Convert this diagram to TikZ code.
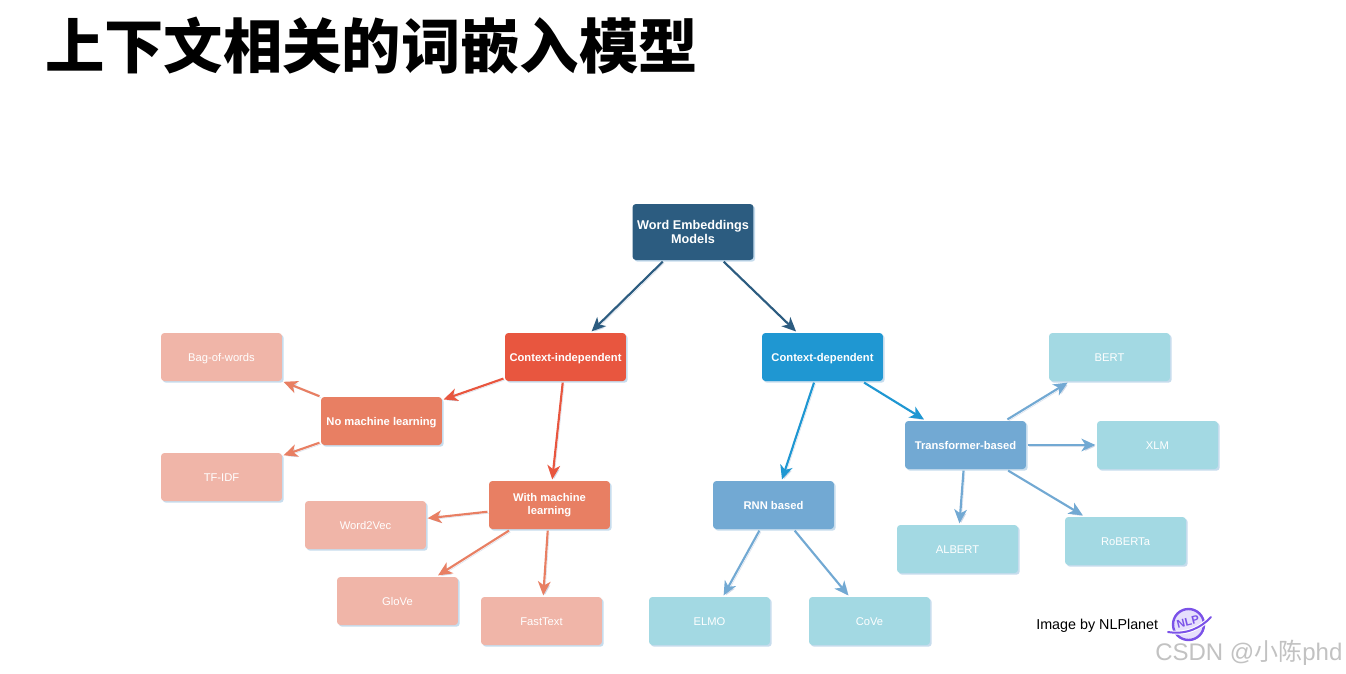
\documentclass[tikz,border=0pt]{standalone}
\usepackage{fontspec}
\setmainfont{Liberation Sans}
\newfontfamily\cjk{Noto Sans CJK SC}
\newfontfamily\cjkheavy{Noto Sans CJK SC Black}
\usetikzlibrary{arrows.meta,shadows}
\definecolor{cRoot}{HTML}{2C5C80}
\definecolor{cRed}{HTML}{E8563F}
\definecolor{cSalmon}{HTML}{E87F63}
\definecolor{cPale}{HTML}{F0B5A8}
\definecolor{cBlue}{HTML}{1F97D2}
\definecolor{cSteel}{HTML}{72A9D3}
\definecolor{cLeaf}{HTML}{A3D9E3}
\definecolor{cPurple}{HTML}{7B52E8}
\definecolor{cLilac}{HTML}{E6DFFC}
\definecolor{cShade}{HTML}{B9C6DC}
\tikzset{
  box/.style={rounded corners=2.5pt,minimum width=90.7pt,minimum height=36pt,inner sep=0pt,outer sep=1.2pt,
    align=center,text=white,text height=1.1em,text depth=.4em,font=\fontsize{8.4pt}{9.8pt}\selectfont,
    drop shadow={shadow xshift=1.3pt,shadow yshift=-1.3pt,fill=cSteel,opacity=.4}},
  strong/.style={box,font=\bfseries\fontsize{8.4pt}{9.8pt}\selectfont},
  link/.style={-{Stealth[length=10.5pt,width=9.5pt,inset=3pt]},line width=1.6pt,
    preaction={draw=cShade,opacity=.55,transform canvas={shift={(1.1pt,-1.1pt)}}}},
}
\begin{document}
\begin{tikzpicture}[x=0.75pt,y=-0.75pt]
\useasboundingbox (0,0) rectangle (1346,674);
\fill[white] (0,0) rectangle (1346,674);
\node[anchor=west,inner sep=0pt,font=\cjkheavy\fontsize{44.5pt}{50pt}\selectfont] (title) at (45,46) {上下文相关的词嵌入模型};

\node[strong,fill=cRoot,minimum height=42pt,text height=,text depth=,font=\bfseries\fontsize{9.5pt}{11.2pt}\selectfont] (root) at (693,232) {Word Embeddings\\Models};
\node[strong,fill=cRed] (ci) at (565.5,357) {Context-independent};
\node[strong,fill=cBlue] (cd) at (822.5,357) {Context-dependent};
\node[strong,fill=cSalmon] (nml) at (381.5,421) {No machine learning};
\node[strong,fill=cSalmon,text height=,text depth=] (wml) at (549.5,505) {With machine\\learning};
\node[strong,fill=cSteel] (rnn) at (773.5,505) {RNN based};
\node[strong,fill=cSteel] (tb) at (965.5,445) {Transformer-based};
\node[box,fill=cPale] (bow) at (221.5,357) {Bag-of-words};
\node[box,fill=cPale] (tfidf) at (221.5,477) {TF-IDF};
\node[box,fill=cPale] (w2v) at (365.5,525) {Word2Vec};
\node[box,fill=cPale] (glove) at (397.5,601) {GloVe};
\node[box,fill=cPale] (ft) at (541.5,621) {FastText};
\node[box,fill=cLeaf] (elmo) at (709.5,621) {ELMO};
\node[box,fill=cLeaf] (cove) at (869.5,621) {CoVe};
\node[box,fill=cLeaf] (bert) at (1109.5,357) {BERT};
\node[box,fill=cLeaf] (xlm) at (1157.5,445) {XLM};
\node[box,fill=cLeaf] (albert) at (957.5,549) {ALBERT};
\node[box,fill=cLeaf] (roberta) at (1125.5,541) {RoBERTa};

\draw[link,cRoot] (root) -- (ci);
\draw[link,cRoot] (root) -- (cd);
\draw[link,cRed] (ci) -- (nml);
\draw[link,cRed] (ci) -- (wml);
\draw[link,cSalmon] (nml) -- (bow);
\draw[link,cSalmon] (nml) -- (tfidf);
\draw[link,cSalmon] (wml) -- (w2v);
\draw[link,cSalmon] (wml) -- (glove);
\draw[link,cSalmon] (wml) -- (ft);
\draw[link,cBlue] (cd) -- (rnn);
\draw[link,cBlue] (cd) -- (tb);
\draw[link,cSteel] (rnn) -- (elmo);
\draw[link,cSteel] (rnn) -- (cove);
\draw[link,cSteel] (tb) -- (bert);
\draw[link,cSteel] (tb) -- (xlm);
\draw[link,cSteel] (tb) -- (albert);
\draw[link,cSteel] (tb) -- (roberta);

\node[anchor=west,inner sep=0pt,font=\fontsize{10.75pt}{12pt}\selectfont] (credit) at (1036,626) {Image by NLPlanet};
\draw[cPurple,line width=1.8pt,fill=cLilac] (1188.5,624.5) circle (15.5);
\draw[white,line width=3pt] (1168,632) .. controls (1186,635) and (1201,628) .. (1211,617);
\draw[cPurple,line width=1.5pt,line cap=round] (1168,632) .. controls (1186,635) and (1201,628) .. (1211,617);
\node[rotate=14,text=cPurple,inner sep=0pt,font=\bfseries\fontsize{8.5pt}{9pt}\selectfont] (logo) at (1188,622) {NLP};
\node[anchor=west,inner sep=0pt,text=black!24,font=\fontsize{18pt}{20pt}\selectfont] (mark) at (1155,653) {CSDN @{\cjk 小陈}phd};
\end{tikzpicture}
\end{document}
